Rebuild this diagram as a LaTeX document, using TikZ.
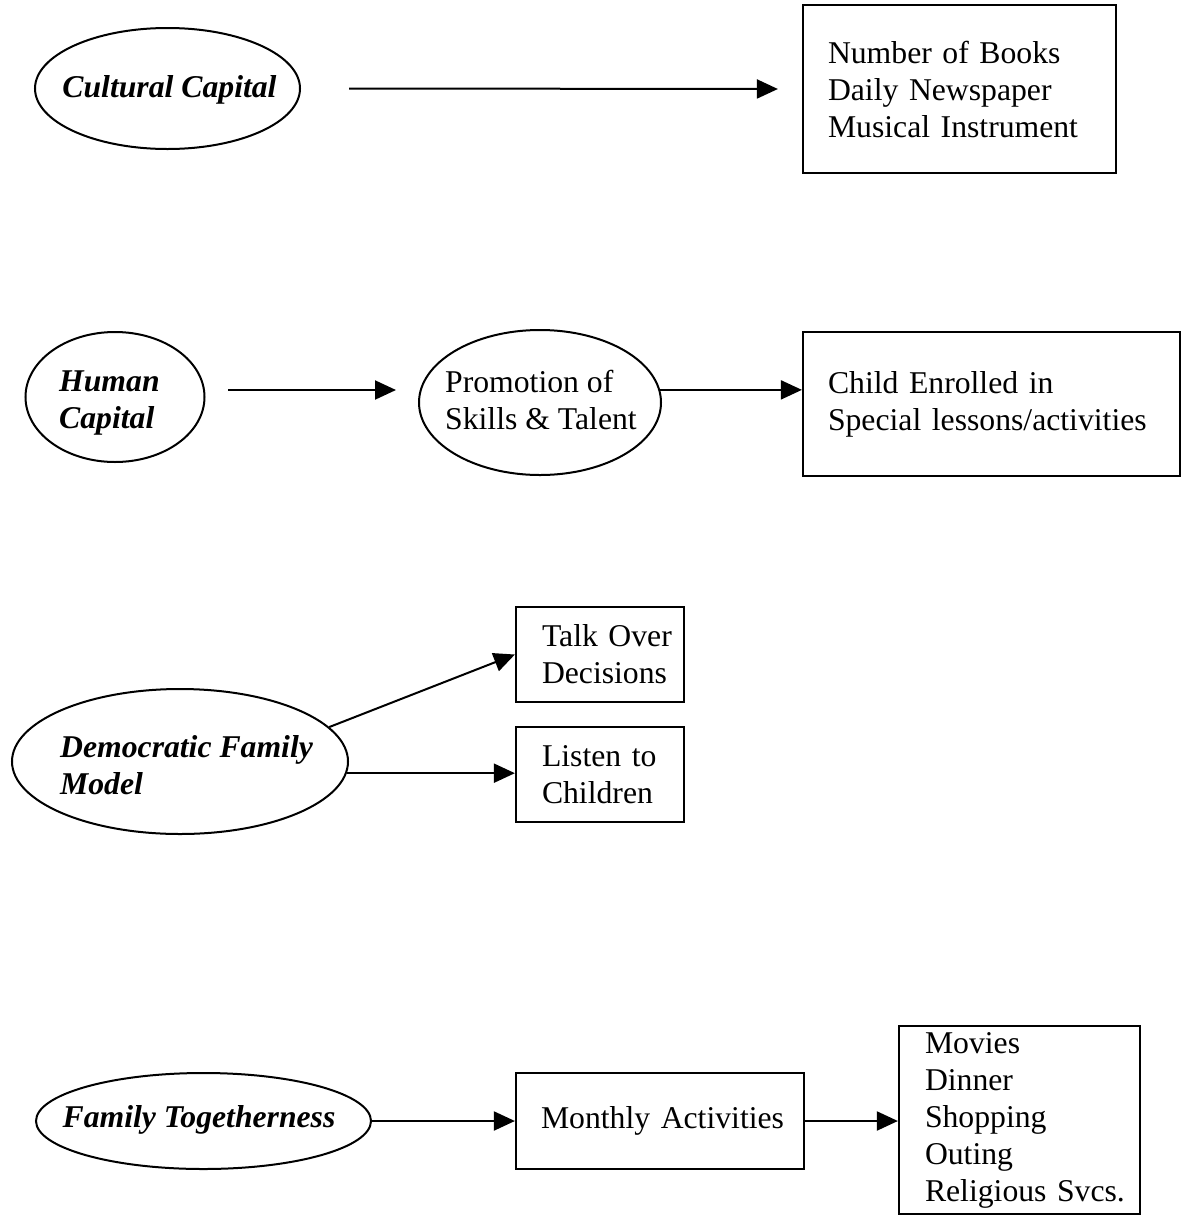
\documentclass[tikz,border=0pt]{standalone}
\usepackage{fontspec}
\setmainfont{Liberation Serif}
\usetikzlibrary{shapes.geometric,arrows.meta}
\begin{document}
\begin{tikzpicture}[x=1pt,y=-1pt,
  txt/.style={font=\fontsize{31.7}{37}\selectfont},
  btxt/.style={font=\fontsize{31.7}{37}\selectfont\bfseries\itshape},
  oval/.style={draw, ellipse, line width=2pt, inner sep=0pt},
  label/.style={inner sep=0pt, align=left},
  rbox/.style={draw, rectangle, line width=2.2pt, inner xsep=25pt, inner ysep=0pt, align=left, txt},
  arr/.style={line width=2pt, -{Triangle[length=21pt,width=19pt]}}
]
\useasboundingbox (0,0) rectangle (1181,1216);

% Row 1
\node[oval, minimum width=265pt, minimum height=121pt] (cc) at (167.5,88.5) {};
\node[label, btxt] (cct) at (169.5,89.6) {Cultural Capital};
\node[rbox, text width=263pt, minimum height=168pt] (b1) at (959.5,89) {\mbox{Number of Books}\\\mbox{Daily Newspaper}\\\mbox{Musical Instrument}};
\draw[arr] ([xshift=48pt]cc.east) -- ([xshift=-24pt]b1.west);

% Row 2
\node[oval, minimum width=179pt, minimum height=130pt] (hc) at (115,397) {};
\node[label, btxt, anchor=west] (hct) at (59,403) {Human\\Capital};
\node[oval, minimum width=242pt, minimum height=145pt] (pr) at (540,402.5) {};
\node[label, txt, anchor=west] (prt) at (445,399.6) {Promotion of\\Skills \& Talent};
\node[rbox, text width=327pt, minimum height=144pt] (b2) at (991.5,404) {\mbox{Child Enrolled in}\\\mbox{Special lessons/activities}};
\coordinate (hcA) at (228,390);
\coordinate (hcB) at (396,390);
\draw[arr] (hcA) -- (hcB);
\draw[arr] (pr.6) -- (pr.6 -| b2.west);

% Row 3
\node[oval, minimum width=336pt, minimum height=145pt] (dfm) at (180,761.5) {};
\node[label, btxt, anchor=west] (dfmt) at (60,764.7) {Democratic Family\\Model};
\node[rbox, inner xsep=26pt, text width=116pt, minimum height=95pt] (talk) at (600,654.5) {\mbox{Talk Over}\\\mbox{Decisions}};
\node[rbox, inner xsep=26pt, text width=116pt, minimum height=95pt] (listen) at (600,774.5) {\mbox{Listen to}\\\mbox{Children}};
\draw[arr] (dfm.13.7) -- (talk.west);
\draw[arr] (dfm.-4.4) -- (dfm.-4.4 -| listen.west);

% Row 4
\node[oval, minimum width=335pt, minimum height=96pt] (ft) at (203.5,1121) {};
\node[label, btxt] (ftt) at (199,1119.6) {Family Togetherness};
\node[rbox, text width=238pt, minimum height=96pt] (mon) at (660,1121) {\mbox{Monthly Activities}};
\node[rbox, inner xsep=26pt, text width=189pt, minimum height=188pt] (b4) at (1019.5,1120) {\mbox{Movies}\\\mbox{Dinner}\\\mbox{Shopping}\\\mbox{Outing}\\\mbox{Religious Svcs.}};
\draw[arr] (ft.east) -- (mon.west);
\draw[arr] (mon.east) -- (b4.west |- mon.east);
\end{tikzpicture}
\end{document}
